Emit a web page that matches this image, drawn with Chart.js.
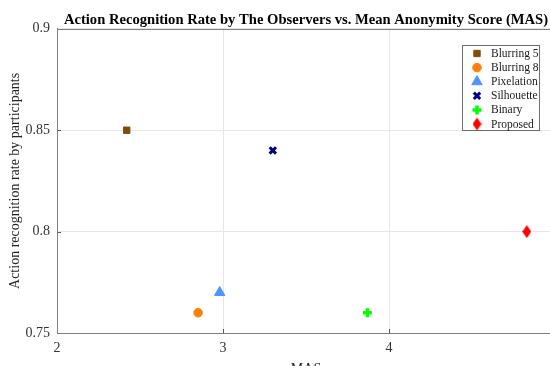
<!DOCTYPE html>
<html>
<head>
<meta charset="utf-8">
<script src="https://cdn.jsdelivr.net/npm/chart.js@4/dist/chart.umd.min.js"></script>
<style>
  html, body { margin: 0; padding: 0; background: #fff; overflow: hidden; }
  #chart { display: block; }
</style>
</head>
<body>
<canvas id="chart" width="563" height="380"></canvas>
<script>
// Données
const methods = ['Blurring 5', 'Blurring 8', 'Pixelation', 'Silhouette', 'Binary', 'Proposed'];
const masValues = [2.42, 2.85, 2.98, 3.30, 3.87, 4.83];
const recognitionRates = [0.85, 0.76, 0.77, 0.84, 0.76, 0.80];
const xTicks = [2, 3, 4, 5];
const xTickLabels = ['2', '3', '4', ''];
const yTicks = [0.75, 0.8, 0.85, 0.9];
const yTickLabels = ['0.75', '0.8', '0.85', '0.9'];

// Styles des marqueurs
const colors = ['#7f4c0a', '#ff7f0e', '#4d94ff', '#000080', '#00ff00', '#ff0000'];

// Losange allongé (comme MATLAB)
function makeDiamond(color) {
    const c = document.createElement('canvas');
    c.width = 9;
    c.height = 13;
    const g = c.getContext('2d');
    g.fillStyle = color;
    g.beginPath();
    g.moveTo(4.5, 0);
    g.lineTo(9, 6.5);
    g.lineTo(4.5, 13);
    g.lineTo(0, 6.5);
    g.closePath();
    g.fill();
    return c;
}

const markers = [
    { pointStyle: 'rect', radius: 4.5, borderWidth: 1 },
    { pointStyle: 'circle', radius: 4.3, borderWidth: 1 },
    { pointStyle: 'triangle', radius: 6, borderWidth: 1 },
    { pointStyle: 'crossRot', radius: 4.5, borderWidth: 3 },
    { pointStyle: 'cross', radius: 4.5, borderWidth: 3.5 },
    { pointStyle: makeDiamond(colors[5]), radius: 6, borderWidth: 0 }
];

const serif = "'Liberation Serif', 'Times New Roman', serif";

// Construction des jeux de données
const datasets = methods.map(function(name, i) {
    return {
        label: name,
        data: [{ x: masValues[i], y: recognitionRates[i] }],
        backgroundColor: colors[i],
        borderColor: colors[i],
        pointStyle: markers[i].pointStyle,
        pointRadius: markers[i].radius,
        pointHoverRadius: markers[i].radius,
        pointBorderWidth: markers[i].borderWidth
    };
});

// Cadre, petites graduations internes et légende dans la zone du graphique
const boxAndLegend = {
    id: 'boxAndLegend',
    afterDraw(chart) {
        const ctx = chart.ctx;
        const area = chart.chartArea;
        const xs = chart.scales.x;
        const ys = chart.scales.y;
        ctx.save();

        // Graduations internes
        ctx.strokeStyle = '#555';
        ctx.lineWidth = 1;
        ctx.beginPath();
        xTicks.forEach(function(v) {
            const px = Math.round(xs.getPixelForValue(v)) + 0.5;
            ctx.moveTo(px, area.bottom);
            ctx.lineTo(px, area.bottom - 4);
        });
        yTicks.forEach(function(v) {
            const py = Math.round(ys.getPixelForValue(v)) + 0.5;
            ctx.moveTo(area.left, py);
            ctx.lineTo(area.left + 4, py);
        });
        ctx.stroke();

        // Cadre
        ctx.strokeStyle = '#808080';
        ctx.strokeRect(Math.round(area.left) + 0.5, Math.round(area.top) + 0.5,
            Math.round(area.right - area.left), Math.round(area.bottom - area.top));

        // Légende
        const lx = 462.5, ly = 45.5, lw = 77, lh = 85;
        ctx.fillStyle = '#fff';
        ctx.fillRect(lx, ly, lw, lh);
        ctx.strokeStyle = '#6e6e6e';
        ctx.strokeRect(lx, ly, lw, lh);
        ctx.font = '11.5px ' + serif;
        ctx.textBaseline = 'middle';
        ctx.textAlign = 'left';
        chart.data.datasets.forEach(function(ds, i) {
            const cy = 53.5 + i * 14.1;
            ctx.fillStyle = ds.backgroundColor;
            ctx.strokeStyle = ds.borderColor;
            ctx.lineWidth = ds.pointBorderWidth || 1;
            if (Chart.helpers && Chart.helpers.drawPoint) {
                Chart.helpers.drawPoint(ctx, {
                    pointStyle: ds.pointStyle,
                    radius: ds.pointRadius,
                    borderWidth: ds.pointBorderWidth,
                    rotation: 0
                }, 477, cy);
            }
            ctx.fillStyle = '#1a1a1a';
            ctx.fillText(ds.label, 491, cy + 0.5);
        });
        ctx.restore();
    }
};

const tickFont = { family: serif, size: 14 };

new Chart(document.getElementById('chart'), {
    type: 'scatter',
    data: { datasets: datasets },
    options: {
        responsive: false,
        animation: false,
        layout: { padding: { left: 0, right: 5, top: 0, bottom: 0 } },
        plugins: {
            legend: { display: false },
            tooltip: { enabled: false },
            title: {
                display: true,
                fullSize: false,
                text: 'Action Recognition Rate by The Observers vs. Mean Anonymity Score (MAS)',
                color: '#000',
                font: { family: serif, size: 14.6, weight: 'bold', lineHeight: 1.15 },
                padding: { top: 12, bottom: 0 }
            }
        },
        scales: {
            x: {
                type: 'linear',
                min: xTicks[0],
                max: xTicks[xTicks.length - 1],
                afterBuildTicks: function(scale) {
                    scale.ticks = xTicks.map(function(v) { return { value: v }; });
                },
                afterFit: function(scale) { scale.height = 47; },
                ticks: {
                    color: '#333',
                    font: tickFont,
                    padding: 7,
                    maxRotation: 0,
                    autoSkip: false,
                    callback: function(v, i) { return xTickLabels[i]; }
                },
                grid: { color: '#e6e6e6', drawTicks: false },
                border: { color: '#808080' },
                title: {
                    display: true,
                    text: 'MAS',
                    color: '#222',
                    font: { family: serif, size: 14, lineHeight: 1.2 },
                    padding: { top: 0, bottom: 2 }
                }
            },
            y: {
                min: yTicks[0],
                max: yTicks[yTicks.length - 1],
                afterBuildTicks: function(scale) {
                    scale.ticks = yTicks.map(function(v) { return { value: v }; });
                },
                afterFit: function(scale) { scale.width = 57; },
                ticks: {
                    color: '#333',
                    font: tickFont,
                    padding: 7,
                    autoSkip: false,
                    callback: function(v, i) { return yTickLabels[i]; }
                },
                grid: { color: '#e6e6e6', drawTicks: false },
                border: { color: '#808080' },
                title: {
                    display: true,
                    text: 'Action recognition rate by participants',
                    color: '#222',
                    font: { family: serif, size: 14, lineHeight: 1.2 },
                    padding: { top: 7, bottom: 0 }
                }
            }
        }
    },
    plugins: [boxAndLegend]
});
</script>
</body>
</html>
